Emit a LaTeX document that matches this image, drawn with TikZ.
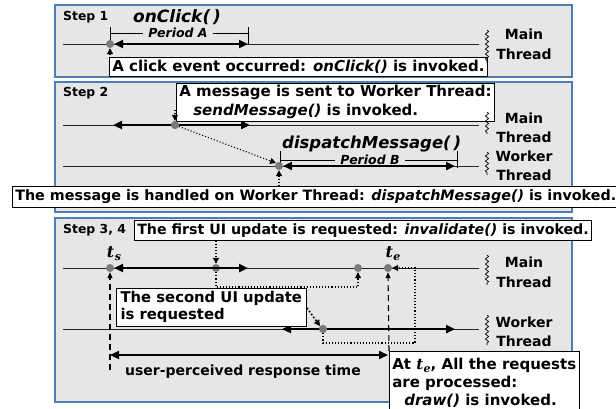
\documentclass[tikz,border=0pt]{standalone}
\usepackage{fontspec}
\setmainfont{DejaVu Sans}
\newfontfamily\tserif{DejaVu Serif}
\usetikzlibrary{arrows.meta,decorations.pathmorphing}
\definecolor{panelblue}{HTML}{4F7DB3}
\definecolor{panelgray}{HTML}{E6E6E6}
\definecolor{dotgray}{HTML}{7A7A7A}
\newcommand{\tsub}[1]{{\tserif\bfseries\itshape t\kern0.5pt\raisebox{-3pt}{\fontsize{11}{12}\selectfont #1}}}
\begin{document}
\begin{tikzpicture}[x=1pt,y=-1pt,
  panel/.style={draw=panelblue, line width=1.6pt, fill=panelgray},
  thr/.style={line width=0.8pt, draw=black!85},
  pdot/.style={circle, fill=dotgray, inner sep=0pt, minimum size=8pt},
  bigarr/.style={{Triangle[length=9pt,width=8pt]}-{Triangle[length=9pt,width=8pt]}, line width=2.4pt},
  dotarr/.style={dotted, line width=1.1pt, -{Triangle[length=6pt,width=6pt]}},
  dasharr/.style={dash pattern=on 6pt off 4pt, line width=1.1pt, -{Triangle[length=6pt,width=5pt]}},
  tbox/.style={draw=black, line width=0.6pt, fill=white, inner xsep=3pt, inner ysep=0pt, anchor=north west, font=\fontsize{15}{19}\selectfont\bfseries},
  steplbl/.style={anchor=west, inner sep=0pt, font=\fontsize{12.4}{14}\selectfont\bfseries},
  thrlbl/.style={inner sep=0pt, font=\fontsize{14}{16}\selectfont\bfseries},
  fname/.style={anchor=west, inner sep=0pt, font=\fontsize{16.5}{20}\selectfont\bfseries\itshape},
  period/.style={fill=panelgray, inner xsep=5pt, inner ysep=0pt, font=\fontsize{12.5}{14}\selectfont\bfseries\itshape},
  tick/.style={line width=0.8pt},
  squig/.style={line width=0.7pt, decorate, decoration={snake, amplitude=1.6pt, segment length=5pt}},
  tlbl/.style={inner sep=0pt, font=\fontsize{16}{18}\selectfont}
]
\useasboundingbox (0,0) rectangle (616,408);
\fill[white] (0,0) rectangle (616,408);

% ---------------- Panels
\draw[panel] (55,5) rectangle (572,77);
\draw[panel] (55,82) rectangle (572,212);
\draw[panel] (55,218) rectangle (572,402);

% ---------------- Step 1
\node[steplbl] (s1) at (63,17) {Step 1};
\node[fname, font=\fontsize{17}{20}\selectfont\bfseries\itshape] (onc) at (133,17) {onClick(\,)};
\coordinate (pa1) at (110,33);
\coordinate (pa2) at (248,33);
\draw[tick] (110,27) -- (110,44);
\draw[tick] (248,27) -- (248,44);
\draw[tick] (pa1) -- (pa2);
\node[period] (pA) at (178,33) {Period A};
\coordinate (m1l) at (63,44);
\coordinate (m1r) at (479,44);
\draw[thr] (m1l) -- (m1r);
\node[pdot] (d1) at (110,44) {};
\coordinate (a1r) at (248,44);
\draw[bigarr] (d1.east) -- (a1r);
\node[tbox, minimum width=371pt, minimum height=19pt] (b1) at (109,57) {A click event occurred: \textit{onClick()} is invoked.};
\coordinate (u1) at (110,58);
\draw[dotarr] (u1) -- (d1.south);
\coordinate (sq1a) at (487,30);
\coordinate (sq1b) at (487,63);
\draw[squig] (sq1a) -- (sq1b);
\node[thrlbl] (mt1a) at (524,34) {Main};
\node[thrlbl] (mt1b) at (524,54) {Thread};

% ---------------- Step 2
\node[steplbl] (s2) at (63,93) {Step 2};
\coordinate (m2l) at (63,125);
\coordinate (m2r) at (479,125);
\draw[thr] (m2l) -- (m2r);
\coordinate (w2l) at (63,166);
\coordinate (w2r) at (479,166);
\draw[thr] (w2l) -- (w2r);
\node[tbox, align=left, minimum width=301pt, minimum height=38pt] (b2) at (176,83) {A message is sent to Worker Thread:\\\hspace*{14pt}\textit{sendMessage()} is invoked.};
\node[pdot] (d2a) at (175,125) {};
\coordinate (a2l) at (113,125);
\coordinate (a2r) at (250,125);
\draw[bigarr] (a2l) -- (a2r);
\node[pdot] at (175,125) {};
\coordinate (u2) at (175,110);
\draw[dotarr] (u2) -- (d2a.north);
\node[fname] (dm) at (282,144) {dispatchMessage(\,)};
\draw[tick] (280,151) -- (280,168);
\draw[tick] (457,151) -- (457,168);
\coordinate (pb1) at (280,160);
\coordinate (pb2) at (457,160);
\draw[tick] (pb1) -- (pb2);
\node[period] (pB) at (370,160) {Period B};
\node[pdot] (d2b) at (279,166) {};
\coordinate (a2br) at (455,166);
\draw[bigarr] (d2b.east) -- (a2br);
\draw[dotarr] (d2a) -- (d2b.north west);
\node[tbox, minimum width=601pt, minimum height=21pt, font=\fontsize{14.3}{18}\selectfont\bfseries] (b3) at (12,186) {The message is handled on Worker Thread: \textit{dispatchMessage()} is invoked.};
\coordinate (u3) at (279,186);
\draw[dotarr] (u3) -- (d2b.south);
\draw[squig] (487,112) -- (487,134);
\draw[squig] (487,152) -- (487,175);
\node[thrlbl] (mt2a) at (524,118) {Main};
\node[thrlbl] (mt2b) at (524,137) {Thread};
\node[thrlbl] (wt2a) at (524,156) {Worker};
\node[thrlbl] (wt2b) at (524,175) {Thread};

% ---------------- Step 3, 4
\node[steplbl] (s3) at (63,230) {Step 3, 4};
\node[tbox, minimum width=457pt, minimum height=20pt, font=\fontsize{14.2}{18}\selectfont\bfseries] (b4) at (134,220) {The first UI update is requested: \textit{invalidate()} is invoked.};
\coordinate (m3l) at (63,268);
\coordinate (m3r) at (479,268);
\draw[thr] (m3l) -- (m3r);
\coordinate (w3l) at (63,329);
\coordinate (w3r) at (479,329);
\draw[thr] (w3l) -- (w3r);
\node[tlbl] (ts) at (114,254) {\tsub{s}};
\node[tlbl] (te) at (393,254) {\tsub{e}};
\node[pdot] (ds) at (110,268) {};
\node[pdot] (db) at (216,268) {};
\node[pdot] (dc) at (358,268) {};
\node[pdot] (de) at (388,268) {};
\coordinate (a3r) at (248,268);
\draw[bigarr] (ds.east) -- (a3r);
\draw[dotarr] (b4.south -| db) -- (db.north);
\coordinate (p1) at (216,287);
\coordinate (p2) at (358,287);
\draw[dotarr] (db.south) -- (p1) -- (p2) -- (dc.south);
\coordinate (dsb) at (110,370);
\draw[dasharr] (dsb) -- (ds.south);
\node[pdot] (dw) at (323,329) {};
\coordinate (a4l) at (282,329);
\coordinate (a4r) at (455,329);
\draw[bigarr] (a4l) -- (a4r);
\node[pdot] at (323,329) {};
\node[tbox, align=left, minimum width=190pt, minimum height=38pt, font=\fontsize{14.8}{17}\selectfont\bfseries] (b5) at (116,288) {The second UI update\\is requested};
\coordinate (q0) at (307,308);
\draw[dotarr, line width=1.6pt] (q0) -- (dw.north west);
\coordinate (q1) at (323,343);
\coordinate (q2) at (415,343);
\coordinate (q3) at (415,268);
\draw[dotarr] (dw.south) -- (q1) -- (q2) -- (q3) -- (de.east);
\coordinate (rl) at (110,355);
\coordinate (rr) at (388,355);
\draw[bigarr, line width=2pt] (rl) -- (rr);
\node[tbox, align=left, minimum width=188pt, minimum height=62pt, font=\fontsize{15}{18}\selectfont\bfseries] (b6) at (389,351) {At {\fontsize{15}{18}\selectfont\tsub{e}}, All the requests\\are processed:\\\hspace*{12pt}\textit{draw()} is invoked.};
\draw[dasharr] (b6.north west) -- (de.south);
\node[inner sep=0pt, font=\fontsize{14}{16}\selectfont\bfseries] (upr) at (243,372) {user-perceived response time};
\draw[squig] (487,255) -- (487,285);
\draw[squig] (487,315) -- (487,345);
\node[thrlbl] (mt3a) at (524,262) {Main};
\node[thrlbl] (mt3b) at (524,282) {Thread};
\node[thrlbl] (wt3a) at (524,322) {Worker};
\node[thrlbl] (wt3b) at (524,341) {Thread};
\end{tikzpicture}
\end{document}
